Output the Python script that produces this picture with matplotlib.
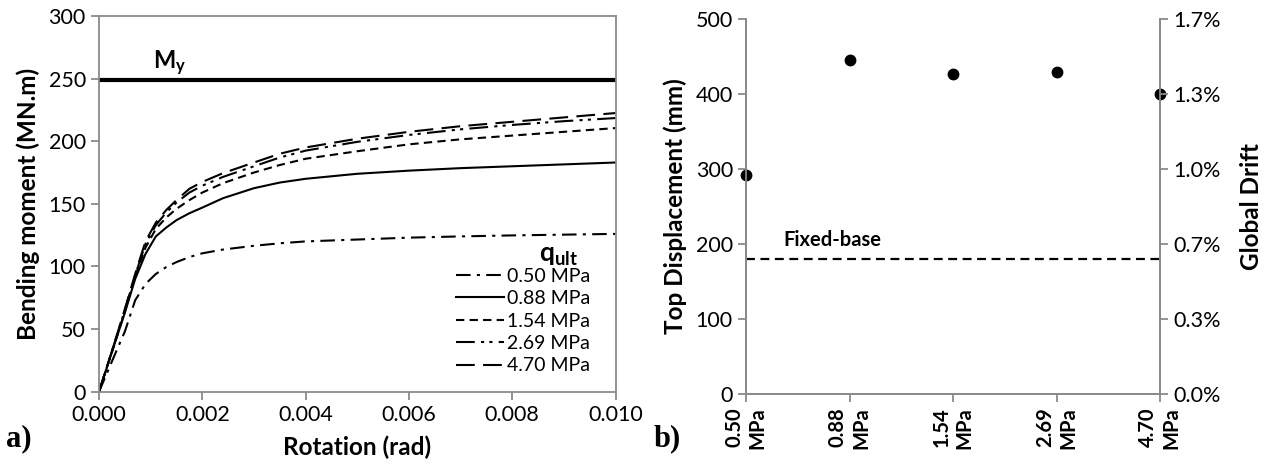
import matplotlib

matplotlib.use("Agg")
import matplotlib.pyplot as plt  # noqa: E402
from matplotlib.ticker import FuncFormatter, MultipleLocator  # noqa: E402

plt.rcParams["font.family"] = ["Lato", "DejaVu Sans"]
plt.rcParams["mathtext.fontset"] = "custom"
plt.rcParams["mathtext.rm"] = "Lato"
plt.rcParams["mathtext.bf"] = "Lato:bold"

_CINZA = "#8a8a8a"

# --- a) moment-rotation curves ---
rotacao = [0.0, 0.0003, 0.0005, 0.0007, 0.0009, 0.0011, 0.0013, 0.0015, 0.00175, 0.002,
           0.0024, 0.003, 0.0035, 0.004, 0.005, 0.006, 0.007, 0.008, 0.009, 0.010]
m_050 = [0, 29, 48, 73, 86, 94, 99.5, 103.5, 107.5, 110.5,
         113.5, 116.5, 118.5, 120, 121.5, 123, 124, 124.8, 125.4, 126]
m_088 = [0, 38, 63, 90, 110, 124, 131, 137, 142.5, 147,
         154.5, 162.5, 167, 170, 174, 176.5, 178.5, 180, 181.5, 183]
m_154 = [0, 38, 64, 92, 115, 130, 139, 146, 153, 159,
         166.5, 175, 181, 186, 192, 197.5, 201.5, 204.5, 207.5, 210.5]
m_269 = [0, 39, 65, 93, 118, 133, 143, 151, 159, 164.5,
         171.5, 180, 187, 192.5, 199.5, 205, 209.5, 213, 216, 218.5]
m_470 = [0, 39, 66, 94, 120, 135, 145, 153, 162, 167.5,
         174.5, 183, 190, 195, 202, 207.5, 212, 215.5, 219, 222.5]
curvas = [
    ("0.50 MPa", m_050, (0, (7, 3, 1.5, 3))),
    ("0.88 MPa", m_088, "-"),
    ("1.54 MPa", m_154, (0, (4, 2.5))),
    ("2.69 MPa", m_269, (0, (9, 3, 1.5, 2.5, 1.5, 3))),
    ("4.70 MPa", m_470, (0, (9, 4))),
]
m_y = 249

# --- b) top displacement ---
categorias = ["0.50\nMPa", "0.88\nMPa", "1.54\nMPa", "2.69\nMPa", "4.70\nMPa"]
deslocamento = [292, 445, 427, 429, 400]
fixed_base = 180
altura_mm = 30000  # drift = deslocamento / altura


def _estilo(ax):
    for lado in ax.spines.values():
        lado.set_color(_CINZA)
        lado.set_linewidth(1.3)
    ax.tick_params(direction="out", color=_CINZA, width=1.3, length=6,
                   labelsize=15.5, labelcolor="black")


fig = plt.figure(figsize=(12.71, 4.70), dpi=100)

# painel a)
ax1 = fig.add_axes((0.0779, 0.1666, 0.4064, 0.7994))
ax1.axhline(m_y, color="black", lw=3)
for rotulo, valores, estilo in curvas:
    ax1.plot(rotacao, valores, color="black", lw=1.5, ls=estilo, label=rotulo)
ax1.text(0.00105, 262, r"$\mathbf{M_y}$", fontsize=17, ha="left", va="center")
ax1.set_xlim(0, 0.010)
ax1.set_ylim(0, 300)
ax1.xaxis.set_major_locator(MultipleLocator(0.002))
ax1.yaxis.set_major_locator(MultipleLocator(50))
ax1.xaxis.set_major_formatter(FuncFormatter(lambda v, _: f"{v:.3f}"))
ax1.set_xlabel("Rotation (rad)", fontsize=17.5, fontweight="bold", labelpad=8)
ax1.set_ylabel("Bending moment (MN.m)", fontsize=17.5, fontweight="bold", labelpad=6)
_estilo(ax1)
ax1.tick_params(top=False, right=False)
ax1.legend(loc="lower right", bbox_to_anchor=(0.97, 0.02), frameon=False, fontsize=14,
           handlelength=2.5, handletextpad=0.15, labelspacing=0.28,
           borderaxespad=0.3, borderpad=0.2)
ax1.text(0.00927, 109, r"$\mathbf{q_{ult}}$", fontsize=19, ha="right", va="center")

# painel b)
ax2 = fig.add_axes((0.587, 0.1617, 0.3257, 0.798))
x_pos = list(range(len(categorias)))
ax2.plot(x_pos, deslocamento, "o", color="black", ms=7.5, clip_on=False, zorder=5)
ax2.axhline(fixed_base, color="black", lw=1.6, ls=(0, (4, 2.5)))
ax2.text(0.36, fixed_base + 12, "Fixed-base", fontsize=14.5, fontweight="bold",
         ha="left", va="bottom")
ax2.set_xlim(0, len(categorias) - 1)
ax2.set_ylim(0, 500)
ax2.yaxis.set_major_locator(MultipleLocator(100))
ax2.set_xticks(x_pos)
ax2.set_ylabel("Top Displacement (mm)", fontsize=17.5, fontweight="bold", labelpad=6)
ax2.spines["top"].set_visible(False)
_estilo(ax2)
ax2.set_xticklabels(categorias, rotation=90, fontweight="bold", fontsize=14.5,
                    va="top", ha="center", multialignment="right")

ax3 = ax2.twinx()
ax3.set_ylim(0, 500 / altura_mm * 100)
ax3.set_yticks([v / altura_mm * 100 for v in range(0, 501, 100)])
ax3.yaxis.set_major_formatter(FuncFormatter(lambda v, _: f"{v:.1f}%"))
ax3.set_ylabel("Global Drift", fontsize=17.5, fontweight="bold", labelpad=14)
ax3.spines["top"].set_visible(False)
_estilo(ax3)

# rótulos dos painéis
fig.text(0.005, 0.05, "a)", fontsize=22, fontweight="bold", family="Liberation Serif")
fig.text(0.514, 0.05, "b)", fontsize=22, fontweight="bold", family="Liberation Serif")

fig.savefig("out.png", dpi=100)
plt.close(fig)
